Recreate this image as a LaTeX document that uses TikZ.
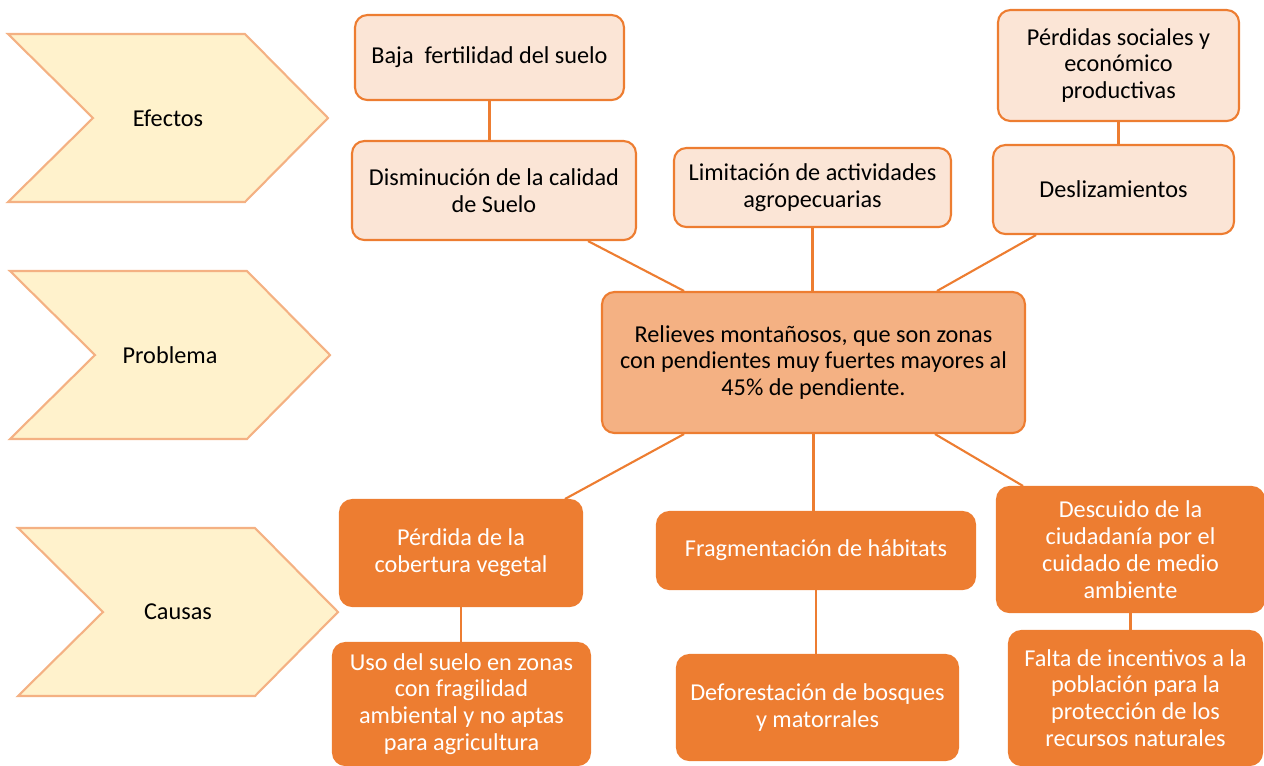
\documentclass[tikz,border=0pt]{standalone}
\usepackage{fontspec}
\setmainfont{Carlito}
\usetikzlibrary{positioning,calc}
\definecolor{arOrange}{HTML}{ED7D31}
\definecolor{arPeach}{HTML}{FBE5D6}
\definecolor{arSalmon}{HTML}{F4B183}
\definecolor{arCream}{HTML}{FFF2CC}
\tikzset{
  box/.style={draw=arOrange, line width=1.2pt, rounded corners=7pt, align=center, inner sep=2pt, font=\fontsize{13.8}{15.3}\selectfont},
  efe/.style={box, fill=arPeach, text=black},
  prob/.style={box, fill=arSalmon, text=black},
  cau/.style={box, fill=arOrange, text=white},
  lnk/.style={draw=arOrange, line width=1.2pt},
  chev/.style={draw=arSalmon, fill=arCream, line width=1.2pt},
}
\begin{document}
\begin{tikzpicture}[x=0.02cm, y=-0.02cm]
        \useasboundingbox (0,0) rectangle (1264,765);
        \foreach \x/\y/\nm/\lbl in {8/118/lefe/Efectos, 10/355/lprob/Problema, 18/612/lcau/Causas}{
            \draw[chev] (\x,{\y-84}) -- ({\x+237},{\y-84}) -- ({\x+320},\y) -- ({\x+237},{\y+84}) -- (\x,{\y+84}) -- ({\x+85},\y) -- cycle;
            \node[font=\fontsize{13.8}{15.3}\selectfont] (\nm) at ({\x+160},\y) {\lbl};
        }
        \node[efe, minimum width=5.38cm, minimum height=1.7cm] (baja) at (489.5,57.5) {Baja\ \ fertilidad del suelo};
        \node[efe, minimum width=5.68cm, minimum height=1.98cm] (dism) at (494,190.5) {Disminución de la calidad\\de Suelo};
        \node[efe, minimum width=5.54cm, minimum height=1.58cm] (limi) at (812.5,187.5) {Limitación de actividades\\agropecuarias};
        \node[efe, minimum width=4.82cm, minimum height=2.22cm] (perd) at (1118.5,65.5) {Pérdidas sociales y\\económico\\productivas};
        \node[efe, minimum width=4.82cm, minimum height=1.78cm] (desl) at (1113.5,189.5) {Deslizamientos};
        \node[prob, minimum width=8.46cm, minimum height=2.82cm] (relieve) at (813.5,362.5) {Relieves montañosos, que son zonas\\con pendientes muy fuertes mayores al\\45\% de pendiente.};
        \node[cau, minimum width=4.84cm, minimum height=2.12cm] (cober) at (461,553) {Pérdida de la\\cobertura vegetal};
        \node[cau, minimum width=6.36cm, minimum height=1.54cm] (frag) at (816,550.5) {Fragmentación de hábitats};
        \node[cau, minimum width=5.34cm, minimum height=2.5cm] (desc) at (1130.5,549.5) {Descuido de la\\ciudadanía por el\\cuidado de medio\\ambiente};
        \node[cau, minimum width=5.14cm, minimum height=2.44cm] (uso) at (461.5,704) {Uso del suelo en zonas\\con fragilidad\\ambiental y no aptas\\para agricultura};
        \node[cau, minimum width=5.62cm, minimum height=2.1cm] (defo) at (817.5,707.5) {Deforestación de bosques\\y matorrales};
        \node[cau, minimum width=5.06cm, minimum height=2.68cm] (falta) at (1135.5,698) {Falta de incentivos a la\\población para la\\protección de los\\recursos naturales};
        \draw[lnk] (baja.south) -- (baja.south |- dism.north);
        \draw[lnk] ([xshift=1.88cm]dism.south) -- ([xshift=-2.59cm]relieve.north);
        \draw[lnk] (limi.south) -- (limi.south |- relieve.north);
        \draw[lnk] ([xshift=-1.55cm]desl.south) -- ([xshift=2.47cm]relieve.north);
        \draw[lnk] (perd.south) -- (perd.south |- desl.north);
        \draw[lnk] ([xshift=-2.59cm]relieve.south) -- ([xshift=2.08cm]cober.north);
        \draw[lnk] (relieve.south) -- (relieve.south |- frag.north);
        \draw[lnk] ([xshift=2.43cm]relieve.south) -- ([xshift=-2.15cm]desc.north);
        \draw[lnk] (cober.south) -- (cober.south |- uso.north);
        \draw[lnk] (frag.south) -- (frag.south |- defo.north);
        \draw[lnk] (desc.south) -- (desc.south |- falta.north);
    \end{tikzpicture}
\end{document}
